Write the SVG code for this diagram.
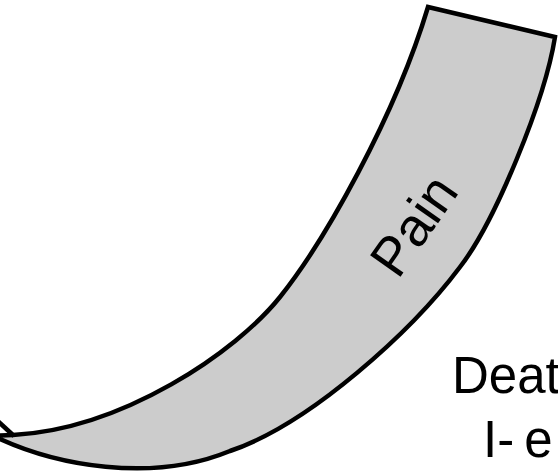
<svg xmlns="http://www.w3.org/2000/svg" width="558" height="476" viewBox="0 0 558 476">
  <style>
    .band { fill: #cccccc; stroke: #000000; stroke-width: 4.5; stroke-linejoin: miter; }
    .edge { fill: none; stroke: #000000; stroke-width: 4.5; }
    .lbl { font-family: "Liberation Sans", Arial, sans-serif; font-size: 51px; fill: #000000; }
    .pain { font-family: "Liberation Sans", Arial, sans-serif; font-size: 54px; fill: #000000; }
  </style>
  <rect width="558" height="476" fill="#ffffff"/>
  <g id="pain-band">
    <path class="band" d="M428,7 C395,117 324,242 280,297 C236,352 123,429 13,435 L-20,436 L0,439 C55,464 150,484 230,451 C310,424 412,331 460,267 C495,222 545,100 555,37 Z"/>
    <path class="edge" d="M14,436 L-12,412"/>
    <text class="pain" x="429" y="236" text-anchor="middle" transform="rotate(-55 429 236)">Pain</text>
  </g>
  <g id="death-label">
    <text class="lbl" x="452" y="393">Deat</text>
    <text class="lbl" x="483" y="457" word-spacing="-4">I- e</text>
  </g>
</svg>
